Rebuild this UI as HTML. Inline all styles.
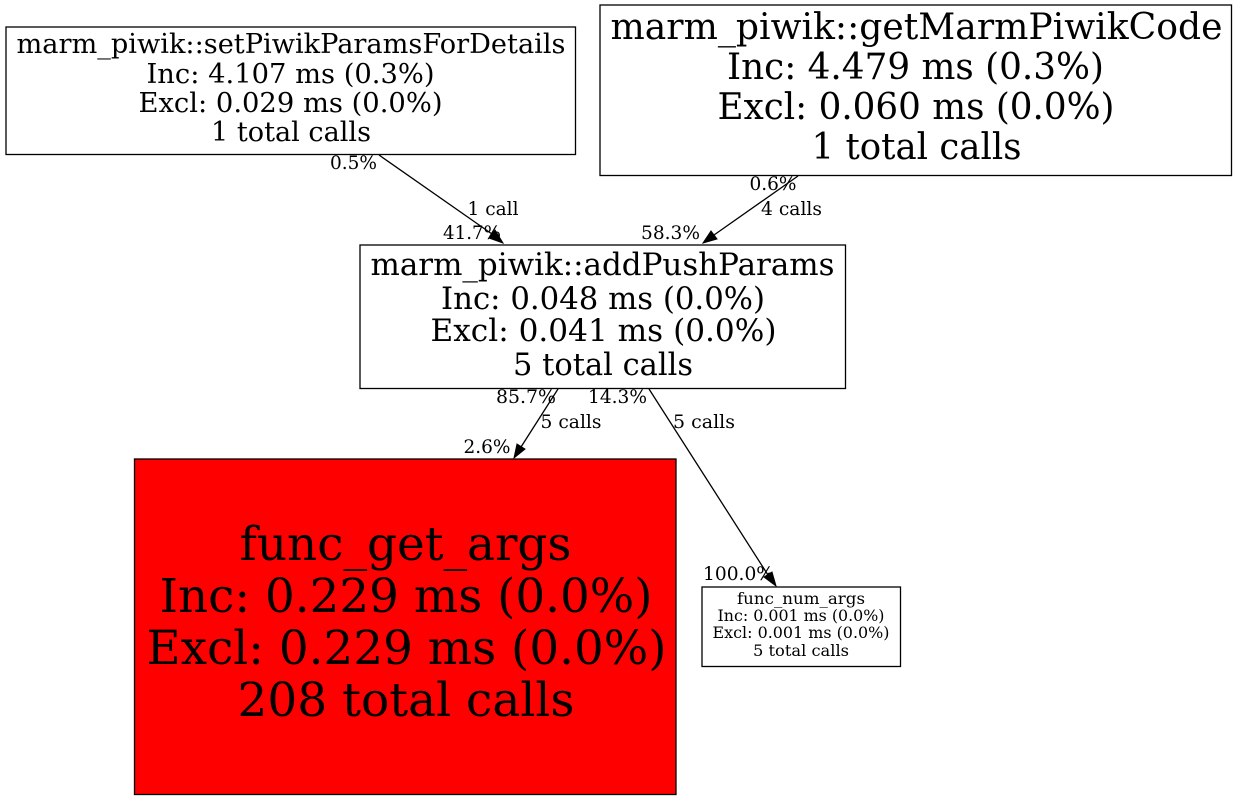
<!DOCTYPE html>
<html><head><meta charset="utf-8"><style>
html,body{margin:0;padding:0;background:#fff;width:1237px;height:800px;overflow:hidden}
svg{display:block}
text{font-family:"DejaVu Serif",serif;fill:#000;text-anchor:middle}
</style></head><body>
<svg width="1237" height="800" viewBox="0 0 1237 800" xmlns="http://www.w3.org/2000/svg">
<rect width="1237" height="800" fill="#fff"/>
<g fill="#fff" stroke="#000" stroke-width="1.3">
<rect x="6" y="27" width="569.5" height="127.5"/>
<rect x="600" y="5" width="631.5" height="170.5"/>
<rect x="360" y="245" width="485.5" height="143.5"/>
<rect x="134.5" y="459" width="541.5" height="335.5" fill="#ff0000"/>
<rect x="702" y="587" width="198.5" height="79.5"/>
</g>
<g font-size="27">
<text x="291" y="53" textLength="549" lengthAdjust="spacingAndGlyphs">marm_piwik::setPiwikParamsForDetails</text>
<text x="290.5" y="83" textLength="288" lengthAdjust="spacingAndGlyphs">Inc: 4.107 ms (0.3%)</text>
<text x="290.5" y="112" textLength="304" lengthAdjust="spacingAndGlyphs">Excl: 0.029 ms (0.0%)</text>
<text x="291" y="141" textLength="160" lengthAdjust="spacingAndGlyphs">1 total calls</text>
</g>
<g font-size="36">
<text x="916.5" y="39" textLength="612" lengthAdjust="spacingAndGlyphs">marm_piwik::getMarmPiwikCode</text>
<text x="915.5" y="79" textLength="377" lengthAdjust="spacingAndGlyphs">Inc: 4.479 ms (0.3%)</text>
<text x="916" y="119" textLength="397" lengthAdjust="spacingAndGlyphs">Excl: 0.060 ms (0.0%)</text>
<text x="916.5" y="159" textLength="210" lengthAdjust="spacingAndGlyphs">1 total calls</text>
</g>
<g font-size="30.5">
<text x="602.5" y="275" textLength="464" lengthAdjust="spacingAndGlyphs">marm_piwik::addPushParams</text>
<text x="603" y="309" textLength="324" lengthAdjust="spacingAndGlyphs">Inc: 0.048 ms (0.0%)</text>
<text x="603.5" y="341" textLength="346" lengthAdjust="spacingAndGlyphs">Excl: 0.041 ms (0.0%)</text>
<text x="603" y="375" textLength="180" lengthAdjust="spacingAndGlyphs">5 total calls</text>
</g>
<g font-size="47">
<text x="405.5" y="560" textLength="332" lengthAdjust="spacingAndGlyphs">func_get_args</text>
<text x="406" y="612" textLength="493" lengthAdjust="spacingAndGlyphs">Inc: 0.229 ms (0.0%)</text>
<text x="406.5" y="664" textLength="520" lengthAdjust="spacingAndGlyphs">Excl: 0.229 ms (0.0%)</text>
<text x="406" y="716" textLength="337" lengthAdjust="spacingAndGlyphs">208 total calls</text>
</g>
<g font-size="16">
<text x="801" y="604" textLength="128" lengthAdjust="spacingAndGlyphs">func_num_args</text>
<text x="801" y="621" textLength="167" lengthAdjust="spacingAndGlyphs">Inc: 0.001 ms (0.0%)</text>
<text x="801" y="638" textLength="177" lengthAdjust="spacingAndGlyphs">Excl: 0.001 ms (0.0%)</text>
<text x="801" y="656" textLength="96" lengthAdjust="spacingAndGlyphs">5 total calls</text>
</g>
<g fill="none" stroke="#000" stroke-width="1.3">
<line x1="379" y1="155" x2="492" y2="234"/>
<line x1="798" y1="176" x2="714" y2="235"/>
<line x1="558" y1="389" x2="521" y2="447"/>
<line x1="649" y1="389" x2="768" y2="575"/>
</g>
<g fill="#000" stroke="#000">
<polygon points="503,243 489,238 495,230"/>
<polygon points="703,243 711,231 717,239"/>
<polygon points="514,458 517,444 525,449"/>
<polygon points="776,586 764,577 772,572"/>
</g>
<g font-size="19">
<text x="353.5" y="169" textLength="47" lengthAdjust="spacingAndGlyphs">0.5%</text>
<text x="493" y="215" textLength="51" lengthAdjust="spacingAndGlyphs">1 call</text>
<text x="472" y="239" textLength="58" lengthAdjust="spacingAndGlyphs">41.7%</text>
<text x="773" y="190" textLength="47" lengthAdjust="spacingAndGlyphs">0.6%</text>
<text x="791.5" y="215" textLength="61" lengthAdjust="spacingAndGlyphs">4 calls</text>
<text x="670.5" y="239" textLength="59" lengthAdjust="spacingAndGlyphs">58.3%</text>
<text x="526" y="403" textLength="60" lengthAdjust="spacingAndGlyphs">85.7%</text>
<text x="571" y="428" textLength="61" lengthAdjust="spacingAndGlyphs">5 calls</text>
<text x="487" y="453" textLength="47" lengthAdjust="spacingAndGlyphs">2.6%</text>
<text x="617.5" y="403" textLength="59" lengthAdjust="spacingAndGlyphs">14.3%</text>
<text x="704" y="428" textLength="62" lengthAdjust="spacingAndGlyphs">5 calls</text>
<text x="738.5" y="580" textLength="71" lengthAdjust="spacingAndGlyphs">100.0%</text>
</g>
</svg>
</body></html>
